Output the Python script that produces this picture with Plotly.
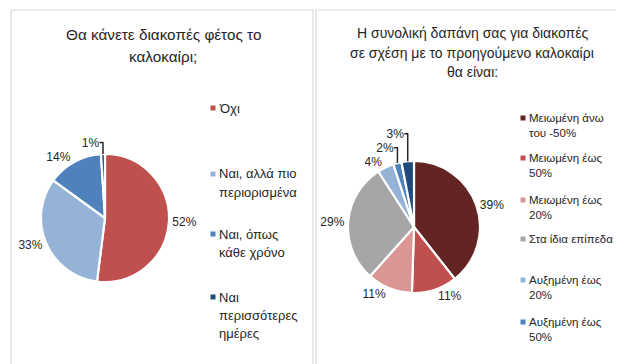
import plotly.graph_objects as go

W, H = 624, 364

# ---- data ----
left_title = ["Θα κάνετε διακοπές φέτος το", "καλοκαίρι;"]
left_labels = ["Όχι", "Ναι, αλλά πιο περιορισμένα", "Ναι, όπως κάθε χρόνο", "Ναι περισσότερες ημέρες"]
left_legend = [["Όχι"], ["Ναι, αλλά πιο", "περιορισμένα"], ["Ναι, όπως", "κάθε χρόνο"],
               ["Ναι", "περισσότερες", "ημέρες"]]
left_values = [52, 33, 14, 1]
left_colors = ["#C0504D", "#95B3D7", "#4F81BD", "#1F497D"]

right_title = ["Η συνολική δαπάνη σας για διακοπές", "σε σχέση με το προηγούμενο καλοκαίρι", "θα είναι:"]
right_labels = ["Μειωμένη άνω του -50%", "Μειωμένη έως 50%", "Μειωμένη έως 20%",
                "Στα ίδια επίπεδα", "Αυξημένη έως 20%", "Αυξημένη έως 50%",
                "Αυξημένη άνω του 50%"]
right_legend = [["Μειωμένη άνω", "του -50%"], ["Μειωμένη έως", "50%"], ["Μειωμένη έως", "20%"],
                ["Στα ίδια επίπεδα"], ["Αυξημένη έως", "20%"], ["Αυξημένη έως", "50%"]]
right_values = [39, 11, 11, 29, 4, 2, 3]
right_colors = ["#632523", "#C0504D", "#D99694", "#A6A6A6", "#95B3D7", "#4F81BD", "#1F497D"]

FONT = "Liberation Sans, Arial, sans-serif"
TXT = "#262626"

def px_x(x):
    return x / W

def px_y(y):
    return 1 - y / H

fig = go.Figure()

def add_pie(labels, values, colors, cx, cy, r):
    fig.add_trace(go.Pie(
        labels=labels, values=values, sort=False, direction="clockwise", rotation=0,
        marker=dict(colors=colors, line=dict(color="white", width=2.2)),
        texttemplate="%{value}%", textposition="outside",
        textfont=dict(family=FONT, size=12, color=TXT),
        showlegend=False, hoverinfo="label+percent",
        domain=dict(x=[px_x(cx - r), px_x(cx + r)], y=[px_y(cy + r), px_y(cy - r)]),
    ))

add_pie(left_labels, left_values, left_colors, 97, 210, 64)
add_pie(right_labels, right_values, right_colors, 406, 219, 66)

shapes = []
annotations = []

# panel borders
for x0, x1 in [(3, 305), (308, 620)]:
    shapes.append(dict(type="rect", xref="paper", yref="paper",
                       x0=px_x(x0), x1=px_x(x1), y0=px_y(361), y1=px_y(2),
                       line=dict(color="#D9D9D9", width=1.2), fillcolor="rgba(0,0,0,0)"))

def add_line(text, x, y, fs, anchor):
    annotations.append(dict(text=text, x=px_x(x), y=px_y(y), xref="paper", yref="paper",
                            xanchor=anchor, yanchor="middle", showarrow=False,
                            font=dict(family=FONT, size=fs, color=TXT)))

# titles
for line, y in zip(left_title, [27, 49]):
    add_line(line, 155, y, 15.3, "center")
for line, y in zip(right_title, [25, 45, 64]):
    add_line(line, 464, y, 14, "center")

# custom legends
def add_legend(entries, colors, mx, tx, ys, fs, gap):
    for lines, c, y in zip(entries, colors, ys):
        shapes.append(dict(type="rect", xref="paper", yref="paper",
                           x0=px_x(mx - 2.5), x1=px_x(mx + 2.5), y0=px_y(y + 2.5), y1=px_y(y - 2.5),
                           line=dict(width=0), fillcolor=c))
        for i, line in enumerate(lines):
            add_line(line, tx, y + i * gap, fs, "left")

add_legend(left_legend, left_colors, 205, 209, [100, 166, 226, 289], 13, 18.3)
add_legend(right_legend, right_colors, 515, 519, [110, 150, 192, 231, 272, 314], 11.5, 15)

fig.update_layout(width=W, height=H, margin=dict(l=0, r=0, t=0, b=0),
                  paper_bgcolor="white", plot_bgcolor="white",
                  shapes=shapes, annotations=annotations,
                  font=dict(family=FONT, color=TXT))

fig.write_html("out.html")
